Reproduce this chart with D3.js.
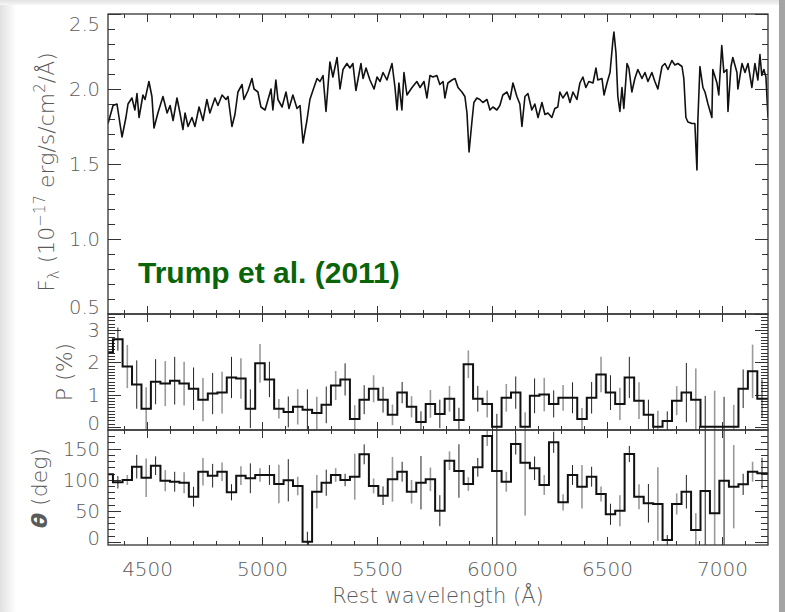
<!DOCTYPE html>
<html>
<head>
<meta charset="utf-8">
<script src="https://cdn.jsdelivr.net/npm/d3@7"></script>
<style>
  html, body { margin: 0; padding: 0; background: #fff; }
  svg { display: block; }
</style>
</head>
<body>
<svg id="chart" width="785" height="612"></svg>
<script>
// ---- Spectrum: rest wavelength (Å) and F_lambda (1e-17 erg/s/cm^2/Å) ----
const specWave = [4330,4352,4369,4391,4408,4417,4434,4447,4456,4465,4482,4491,4508,4521,4530,4547,4569,4587,4600,4613,
  4630,4643,4656,4665,4678,4695,4708,4726,4743,4760,4773,4795,4808,4826,4843,4852,4869,4882,4895,4913,
  4921,4939,4956,4965,4982,4995,5013,5026,5039,5047,5060,5069,5087,5104,5117,5134,5152,5165,5178,5195,
  5208,5221,5239,5252,5265,5278,5295,5308,5326,5339,5352,5369,5382,5395,5408,5430,5439,5452,5469,5487,
  5500,5513,5526,5543,5565,5578,5587,5595,5608,5617,5630,5652,5673,5687,5704,5717,5730,5743,5760,5773,
  5787,5795,5808,5826,5839,5852,5869,5882,5891,5900,5913,5921,5934,5947,5960,5978,5991,6004,6021,6034,
  6047,6065,6078,6091,6108,6121,6130,6143,6156,6173,6186,6200,6217,6230,6243,6260,6273,6286,6295,6308,
  6326,6339,6352,6369,6382,6395,6408,6421,6439,6452,6460,6478,6487,6500,6513,6526,6530,6539,6547,6556,
  6565,6573,6587,6595,6608,6621,6634,6652,6665,6678,6695,6708,6721,6739,6752,6765,6782,6795,6808,6826,
  6834,6843,6852,6869,6882,6891,6895,6904,6917,6926,6939,6956,6960,6978,6986,6999,7008,7021,7026,7039,
  7047,7065,7069,7087,7100,7113,7130,7143,7156,7165,7173,7182,7191,7200];
const specFlux = [1.77,1.89,1.90,1.68,1.81,1.90,1.94,1.86,1.97,1.81,1.96,1.93,2.05,1.95,1.74,1.84,1.95,1.84,1.89,1.79,
  1.94,1.84,1.73,1.84,1.75,1.81,1.75,1.88,1.79,1.93,1.84,1.94,1.89,1.96,1.93,1.95,1.75,1.83,1.98,2.03,
  1.93,1.99,2.07,2.00,1.98,1.88,1.86,1.93,2.00,1.86,2.06,1.93,1.88,1.98,1.87,1.96,1.87,1.89,1.64,1.79,
  1.93,1.99,2.07,2.05,2.09,1.85,2.18,2.08,2.21,2.00,2.13,2.17,2.14,2.17,1.99,2.17,2.07,2.14,2.06,2.00,
  2.08,2.05,2.11,2.06,2.17,2.01,1.86,2.04,1.86,2.11,1.96,2.01,2.05,2.01,2.05,1.94,2.09,2.08,2.09,2.03,
  2.05,1.94,2.04,2.06,2.07,2.01,1.98,1.95,1.84,1.58,1.79,1.91,1.94,1.93,1.91,1.93,1.86,1.88,1.86,1.89,
  1.96,1.98,1.93,2.04,1.95,1.90,1.75,1.95,1.97,1.86,1.90,1.81,1.91,1.83,1.84,1.81,1.87,1.88,1.98,1.94,
  1.98,1.91,1.98,1.93,2.04,2.08,2.01,2.05,2.04,2.14,2.06,2.07,1.96,2.04,2.11,2.33,2.38,2.24,1.95,1.85,
  2.01,1.87,2.17,2.14,1.98,2.07,2.13,2.07,2.11,2.05,2.11,2.05,2.00,2.15,2.17,2.13,2.19,2.16,2.17,2.15,
  2.07,1.81,1.78,1.77,1.77,1.46,1.79,2.15,2.01,1.98,1.90,1.81,2.13,2.04,1.96,2.29,2.11,2.13,1.85,2.15,
  2.21,2.11,2.00,2.17,2.11,2.17,2.01,2.17,2.06,2.23,2.09,2.13,2.08,1.81];

// ---- Polarimetry bins (first entry is the partial bin at the blue edge) ----
const binCenters = [4330,4373,4414,4455,4496,4537,4579,4620,4661,4702,4743,4785,4826,4867,4908,4949,4991,5032,5073,5114,
  5155,5197,5238,5279,5320,5361,5403,5444,5485,5526,5567,5609,5650,5691,5732,5773,5815,5856,5897,5938,
  5979,6021,6062,6103,6144,6185,6227,6268,6309,6350,6391,6433,6474,6515,6556,6597,6639,6680,6721,6762,
  6803,6845,6886,6927,6968,7009,7051,7092,7133,7174];
const polP = [2.31,2.72,1.87,1.31,0.56,1.40,1.34,1.43,1.34,1.18,0.84,1.03,1.06,1.53,1.50,0.56,1.97,1.47,0.56,0.46,
  0.62,0.53,0.43,0.68,1.28,1.47,0.24,0.84,1.18,0.84,0.37,1.06,0.62,0.15,0.71,0.40,0.87,0.21,1.94,0.87,
  0.71,0.00,0.90,1.06,0.00,0.96,1.00,0.71,0.90,0.90,0.24,0.90,1.62,1.06,0.71,1.53,0.81,0.37,0.00,0.18,
  0.81,1.06,0.84,0.00,0.00,0.00,0.00,1.18,1.72,0.87];
const polPErr = [null,0.36,0.67,0.75,0.67,0.70,0.70,0.74,0.68,0.66,0.67,0.64,0.65,0.64,0.63,0.60,0.60,0.55,0.30,0.48,
  0.55,0.63,0.50,0.57,0.45,0.50,0.43,0.45,0.42,0.40,0.32,0.33,0.33,0.33,0.43,0.44,0.40,0.38,0.43,0.40,
  0.42,0.40,0.43,0.50,0.45,0.54,0.52,0.42,0.40,0.48,0.34,0.49,0.55,0.54,0.50,0.64,0.57,0.47,0.50,0.30,
  0.45,0.92,0.97,0.96,1.12,0.93,0.68,0.60,0.83,0.60];
const polTheta = [108.7,95.9,99.6,121,103.3,122.6,98.5,96.8,95.2,72.7,112.9,106.5,112.9,79.8,106.5,102.3,107.6,107.6,93.1,99.1,
  89.9,0.3,80.7,95.2,107.6,99.6,104.9,140.9,89.9,74.3,100.7,112.9,80.7,95.2,100.7,50.2,130.6,114,93.1,120,
  170.4,114,96.8,157.5,127.4,118.4,91.5,160.2,63.7,107.6,88.8,104.9,77,44.4,50.2,141.4,72.7,62.1,61,3,
  61,80.7,19.1,81.9,46,98.5,88.8,92.6,112.9,110.3];
const polThetaErr = [null,10,8,19,31,15,17,16,17,16,22,19,15,13,15,24,11,16,31,34,
  15,16,27,21,11,10,37,16,12,15,36,16,19,43,19,25,15,43,11,15,
  16,180,16,17,85,19,16,17,13,16,35,16,12,17,25,13,20,31,59,8,
  17,27,27,180,180,180,67,17,16,25];

// ---- Axis ticks and labels ----
const waveTicks = [4500, 5000, 5500, 6000, 6500, 7000];
const fluxTicks = [0.5, 1.0, 1.5, 2.0, 2.5];
const pTicks = [0, 1, 2, 3];
const thetaTicks = [0, 50, 100, 150];

const plotL = 108, plotR = 768;
const axisColor = '#333';
const labelColor = '#5a5a5a';
const labelFont = '"DejaVu Sans", Verdana, sans-serif';

const x = d3.scaleLinear().domain([4330, 7200]).range([plotL, plotR]);

const panels = [
  { name: 'flux', top: 14, bottom: 314, y: d3.scaleLinear().domain([0.5, 2.5]).range([314, 14]),
    ticks: fluxTicks, minor: d3.range(6, 25).map(d => d / 10).filter(d => d % 0.5 > 1e-6 && 0.5 - d % 0.5 > 1e-6),
    fmt: d3.format('.1f'), majorLen: 13, minorLen: 6.5 },
  { name: 'pol', top: 314, bottom: 430, y: d3.scaleLinear().domain([-0.1, 3.5]).range([430, 314]),
    ticks: pTicks, minor: d3.range(0, 35).map(d => d / 10).filter(d => Math.abs(d - Math.round(d)) > 1e-6),
    fmt: d3.format('d'), majorLen: 13, minorLen: 7 },
  { name: 'ang', top: 430, bottom: 545, y: d3.scaleLinear().domain([-5, 180]).range([545, 430]),
    ticks: thetaTicks, minor: d3.range(10, 180, 10).filter(d => d % 50 !== 0),
    fmt: d3.format('d'), majorLen: 13, minorLen: 7 }
];

const svg = d3.select('#chart');
const defs = svg.append('defs');

// window edge shading around the figure
const gL = defs.append('linearGradient').attr('id', 'edgeL').attr('x1', 0).attr('x2', 1).attr('y1', 0).attr('y2', 0);
gL.append('stop').attr('offset', 0).attr('stop-color', '#e0e0e0');
gL.append('stop').attr('offset', 1).attr('stop-color', '#ffffff');
const gT = defs.append('linearGradient').attr('id', 'edgeT').attr('x1', 0).attr('x2', 0).attr('y1', 0).attr('y2', 1);
gT.append('stop').attr('offset', 0).attr('stop-color', '#e2e2e2');
gT.append('stop').attr('offset', 1).attr('stop-color', '#f6f6f6');

svg.append('rect').attr('width', 785).attr('height', 612).attr('fill', '#fff');
svg.append('rect').attr('x', 0).attr('y', 0).attr('width', 16).attr('height', 612).attr('fill', 'url(#edgeL)');
svg.append('rect').attr('x', 0).attr('y', 0).attr('width', 785).attr('height', 5).attr('fill', 'url(#edgeT)');
svg.append('rect').attr('x', 779).attr('y', 0).attr('width', 6).attr('height', 612).attr('fill', '#a4a4a4');

function tickSet(parent, axis, values, len, tx, ty) {
  parent.append('g')
    .attr('transform', `translate(${tx},${ty})`)
    .call(axis.tickValues(values).tickSize(-len).tickFormat(''))
    .call(s => s.select('.domain').remove())
    .selectAll('line')
    .attr('stroke', axisColor)
    .attr('stroke-width', 1)
    .attr('shape-rendering', 'crispEdges');
}

const waveMinor = d3.range(4400, 7200, 100).filter(d => d % 500 !== 0);

panels.forEach(p => {
  const g = svg.append('g').attr('class', 'panel-' + p.name);
  defs.append('clipPath').attr('id', 'clip-' + p.name)
    .append('rect').attr('x', plotL).attr('y', p.top)
    .attr('width', plotR - plotL).attr('height', p.bottom - p.top);

  // y ticks, both sides
  tickSet(g, d3.axisLeft(p.y), p.ticks, p.majorLen, plotL, 0);
  tickSet(g, d3.axisLeft(p.y), p.minor, p.minorLen, plotL, 0);
  tickSet(g, d3.axisRight(p.y), p.ticks, p.majorLen, plotR, 0);
  tickSet(g, d3.axisRight(p.y), p.minor, p.minorLen, plotR, 0);
  // x ticks, top and bottom edges
  tickSet(g, d3.axisTop(x), waveTicks, 8, 0, p.top);
  tickSet(g, d3.axisTop(x), waveMinor, 4, 0, p.top);
  tickSet(g, d3.axisBottom(x), waveTicks, 8, 0, p.bottom);
  tickSet(g, d3.axisBottom(x), waveMinor, 4, 0, p.bottom);

  // y tick labels, kept inside the panel's vertical extent
  g.append('g').selectAll('text').data(p.ticks).join('text')
    .attr('x', plotL - 8)
    .attr('y', d => Math.max(p.top + 10, Math.min(p.bottom - 7, p.y(d))))
    .attr('dy', '0.36em')
    .attr('text-anchor', 'end')
    .attr('font-family', labelFont)
    .attr('font-weight', 200)
    .attr('font-size', 19.5)
    .attr('fill', labelColor)
    .text(p.fmt);

  p.g = g;
});

// ---- Flux spectrum ----
const flux = panels[0];
flux.g.append('path')
  .datum(d3.zip(specWave, specFlux))
  .attr('clip-path', 'url(#clip-flux)')
  .attr('fill', 'none')
  .attr('stroke', '#111')
  .attr('stroke-width', 1.6)
  .attr('stroke-linejoin', 'round')
  .attr('d', d3.line().x(d => x(d[0])).y(d => flux.y(d[1])));

// ---- Binned polarization and angle with error bars ----
function binnedPanel(p, values, errors) {
  const bars = p.g.append('g').attr('clip-path', `url(#clip-${p.name})`);
  binCenters.forEach((c, i) => {
    const e = errors[i];
    if (e == null) return;
    const odd = i % 2 === 1;
    bars.append('line')
      .attr('x1', x(c)).attr('x2', x(c))
      .attr('y1', p.y(values[i] - e)).attr('y2', p.y(values[i] + e))
      .attr('stroke', odd ? '#222' : '#9a9a9a')
      .attr('stroke-width', odd ? 1 : 1.6);
  });
  const pts = binCenters.map((c, i) => [c, values[i]]);
  pts.push([x.domain()[1], values[values.length - 1]]);
  p.g.append('path')
    .datum(pts)
    .attr('clip-path', `url(#clip-${p.name})`)
    .attr('fill', 'none')
    .attr('stroke', '#111')
    .attr('stroke-width', 2)
    .attr('d', d3.line().curve(d3.curveStep).x(d => x(d[0])).y(d => p.y(d[1])));
}
binnedPanel(panels[1], polP, polPErr);
binnedPanel(panels[2], polTheta, polThetaErr);

// ---- Panel frames ----
panels.forEach(p => {
  svg.append('rect')
    .attr('x', plotL).attr('y', p.top)
    .attr('width', plotR - plotL).attr('height', p.bottom - p.top)
    .attr('fill', 'none').attr('stroke', axisColor).attr('stroke-width', 1.3);
});

// ---- Wavelength labels on the bottom panel ----
svg.append('g')
  .attr('transform', `translate(0,${panels[2].bottom})`)
  .call(d3.axisBottom(x).tickValues(waveTicks).tickSize(0).tickPadding(17).tickFormat(d3.format('d')))
  .call(s => s.select('.domain').remove())
  .selectAll('text')
  .attr('font-family', labelFont)
  .attr('font-weight', 200)
  .attr('font-size', 20)
  .attr('fill', labelColor);

svg.append('text')
  .attr('x', (plotL + plotR) / 2).attr('y', 603)
  .attr('text-anchor', 'middle')
  .attr('font-family', labelFont).attr('font-weight', 200).attr('font-size', 21)
  .attr('fill', labelColor)
  .text('Rest wavelength (Å)');

// ---- Y axis titles ----
function yTitle(cx, cy) {
  return svg.append('text')
    .attr('transform', `translate(${cx},${cy}) rotate(-90)`)
    .attr('text-anchor', 'middle')
    .attr('font-family', labelFont).attr('font-weight', 200).attr('font-size', 22)
    .attr('fill', labelColor);
}
const tF = yTitle(54, 172);
tF.append('tspan').text('F');
tF.append('tspan').attr('dy', 5).attr('font-size', 15).text('λ');
tF.append('tspan').attr('dy', -5).text(' (10');
tF.append('tspan').attr('dy', -9).attr('font-size', 15).text('−17');
tF.append('tspan').attr('dy', 9).text(' erg/s/cm');
tF.append('tspan').attr('dy', -9).attr('font-size', 15).text('2');
tF.append('tspan').attr('dy', 9).text('/Å)');

const tP = yTitle(72, 372);
tP.text('P (%)');

const tT = yTitle(47, 488);
tT.append('tspan').attr('font-style', 'italic').attr('font-weight', 'bold').text('θ');
tT.append('tspan').text(' (deg)');

// ---- Reference annotation ----
svg.append('text')
  .attr('x', 138).attr('y', 283)
  .attr('font-family', '"Liberation Sans", Arial, Helvetica, sans-serif')
  .attr('font-weight', 'bold')
  .attr('font-size', 30)
  .attr('fill', '#0a640a')
  .text('Trump et al. (2011)');
</script>
</body>
</html>
